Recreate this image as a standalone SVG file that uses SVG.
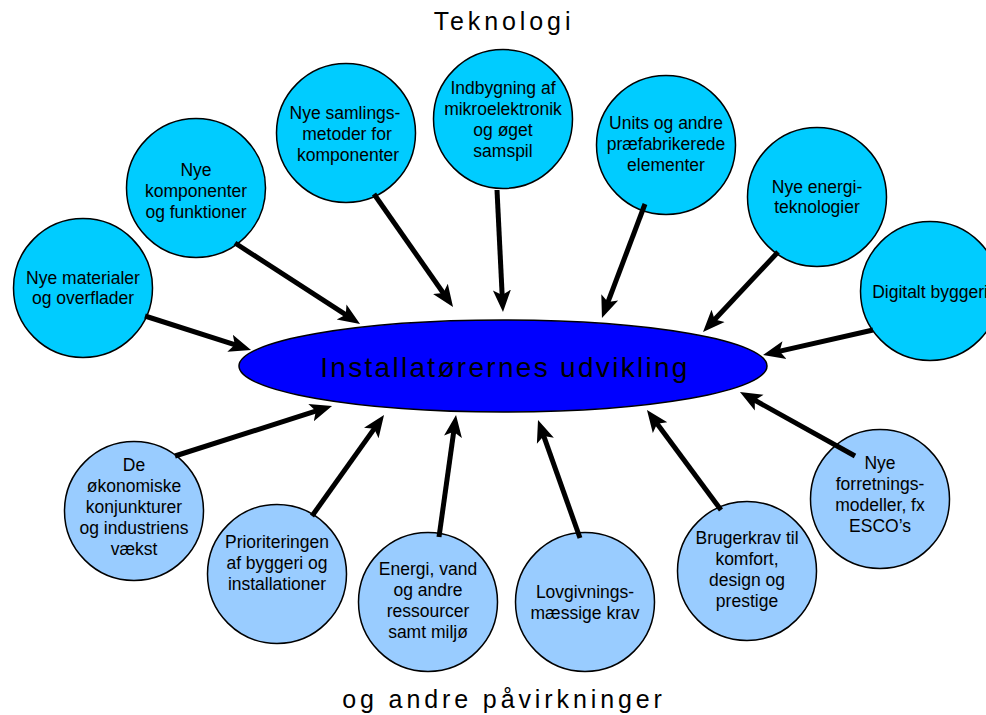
<svg xmlns="http://www.w3.org/2000/svg" width="986" height="715" viewBox="0 0 986 715">
  <style>
    .tech { fill: #00CCFF; stroke: #000; stroke-width: 1.5; }
    .infl { fill: #99CCFF; stroke: #000; stroke-width: 1.5; }
    .lbl { font-family: "Liberation Sans", Arial, sans-serif; font-size: 17.5px; fill: #000; text-anchor: middle; }
    .head { font-family: "Liberation Sans", Arial, sans-serif; font-size: 25px; letter-spacing: 3.9px; fill: #000; text-anchor: middle; }
    .core { font-family: "Liberation Sans", Arial, sans-serif; font-size: 28px; letter-spacing: 2.3px; fill: #000; text-anchor: middle; }
    .conn line { stroke: #000; stroke-width: 5; marker-end: url(#arrow); }
  </style>
  <defs>
    <marker id="arrow" markerUnits="userSpaceOnUse" markerWidth="24" markerHeight="20" viewBox="0 -10 24 20" refX="8" refY="0" orient="auto">
      <path d="M22,0 L0,-9 L5,0 L0,9 Z" fill="#000"/>
    </marker>
  </defs>

  <rect width="986" height="715" fill="#fff"/>

  <text class="head" x="504" y="30">Teknologi</text>
  <text class="head" x="504" y="708">og andre påvirkninger</text>

  <!-- central node -->
  <g id="center">
    <ellipse cx="503" cy="366" rx="264" ry="46" fill="#0000FF" stroke="#000" stroke-width="1.5"/>
    <text class="core" x="505" y="377">Installatørernes udvikling</text>
  </g>

  <!-- technology drivers -->
  <g id="materialer">
    <circle class="tech" cx="83" cy="288" r="69.5"/>
    <text class="lbl" x="83" y="284"><tspan x="83">Nye materialer</tspan><tspan x="83" dy="20">og overflader</tspan></text>
  </g>
  <g id="komponenter">
    <circle class="tech" cx="196" cy="188" r="69.5"/>
    <text class="lbl" x="196" y="176"><tspan x="196">Nye</tspan><tspan x="196" dy="21">komponenter</tspan><tspan x="196" dy="21">og funktioner</tspan></text>
  </g>
  <g id="samlingsmetoder">
    <circle class="tech" cx="346" cy="133" r="69.5"/>
    <text class="lbl" x="346" y="119"><tspan x="345">Nye samlings-</tspan><tspan x="347" dy="21">metoder for</tspan><tspan x="348" dy="21">komponenter</tspan></text>
  </g>
  <g id="mikroelektronik">
    <circle class="tech" cx="503" cy="119" r="69.5"/>
    <text class="lbl" x="503" y="94"><tspan x="503">Indbygning af</tspan><tspan x="503" dy="21">mikroelektronik</tspan><tspan x="503" dy="21">og øget</tspan><tspan x="503" dy="21">samspil</tspan></text>
  </g>
  <g id="units">
    <circle class="tech" cx="666" cy="145" r="69.5"/>
    <text class="lbl" x="666" y="129"><tspan x="666">Units og andre</tspan><tspan x="666" dy="21">præfabrikerede</tspan><tspan x="666" dy="21">elementer</tspan></text>
  </g>
  <g id="energiteknologier">
    <circle class="tech" cx="817" cy="197" r="69.5"/>
    <text class="lbl" x="817" y="193"><tspan x="817">Nye energi-</tspan><tspan x="817" dy="20">teknologier</tspan></text>
  </g>
  <g id="digitalt">
    <circle class="tech" cx="930" cy="291" r="69.5"/>
    <text class="lbl" x="930" y="298">Digitalt byggeri</text>
  </g>

  <!-- other influences -->
  <g id="konjunkturer">
    <circle class="infl" cx="134" cy="511" r="69.5"/>
    <text class="lbl" x="134" y="471"><tspan x="134">De</tspan><tspan x="134" dy="21">økonomiske</tspan><tspan x="134" dy="21">konjunkturer</tspan><tspan x="134" dy="21">og industriens</tspan><tspan x="134" dy="21">vækst</tspan></text>
  </g>
  <g id="prioriteringen">
    <circle class="infl" cx="277" cy="574" r="69.5"/>
    <text class="lbl" x="277" y="548"><tspan x="277">Prioriteringen</tspan><tspan x="277" dy="21">af byggeri og</tspan><tspan x="277" dy="21">installationer</tspan></text>
  </g>
  <g id="ressourcer">
    <circle class="infl" cx="428" cy="602" r="69.5"/>
    <text class="lbl" x="428" y="575"><tspan x="428">Energi, vand</tspan><tspan x="428" dy="21">og andre</tspan><tspan x="428" dy="21">ressourcer</tspan><tspan x="428" dy="21">samt miljø</tspan></text>
  </g>
  <g id="lovgivning">
    <circle class="infl" cx="585" cy="602" r="69.5"/>
    <text class="lbl" x="585" y="598"><tspan x="585">Lovgivnings-</tspan><tspan x="585" dy="21">mæssige krav</tspan></text>
  </g>
  <g id="brugerkrav">
    <circle class="infl" cx="747" cy="571" r="69.5"/>
    <text class="lbl" x="747" y="544"><tspan x="747">Brugerkrav til</tspan><tspan x="747" dy="21">komfort,</tspan><tspan x="747" dy="21">design og</tspan><tspan x="747" dy="21">prestige</tspan></text>
  </g>
  <g id="forretningsmodeller">
    <circle class="infl" cx="880" cy="499" r="69.5"/>
    <text class="lbl" x="880" y="469"><tspan x="880">Nye</tspan><tspan x="880" dy="21">forretnings-</tspan><tspan x="880" dy="21">modeller, fx</tspan><tspan x="880" dy="21">ESCO’s</tspan></text>
  </g>

  <!-- connectors, all pointing into the central node -->
  <g id="connectors" class="conn">
    <line x1="145" y1="316" x2="237.7" y2="345.7"/>
    <line x1="235" y1="243" x2="348.3" y2="316.4"/>
    <line x1="374" y1="194" x2="445.0" y2="295.5"/>
    <line x1="497" y1="190" x2="502.3" y2="298.0"/>
    <line x1="645" y1="204" x2="606.9" y2="304.9"/>
    <line x1="778" y1="252" x2="712.6" y2="321.8"/>
    <line x1="873" y1="330" x2="776.7" y2="351.9"/>
    <line x1="175" y1="456" x2="318.7" y2="410.2"/>
    <line x1="312" y1="516" x2="375.9" y2="426.4"/>
    <line x1="439" y1="537" x2="454.1" y2="428.9"/>
    <line x1="580" y1="538" x2="542.7" y2="433.2"/>
    <line x1="721" y1="510" x2="655.3" y2="421.3"/>
    <line x1="855" y1="456" x2="752.2" y2="398.8"/>
  </g>
</svg>
